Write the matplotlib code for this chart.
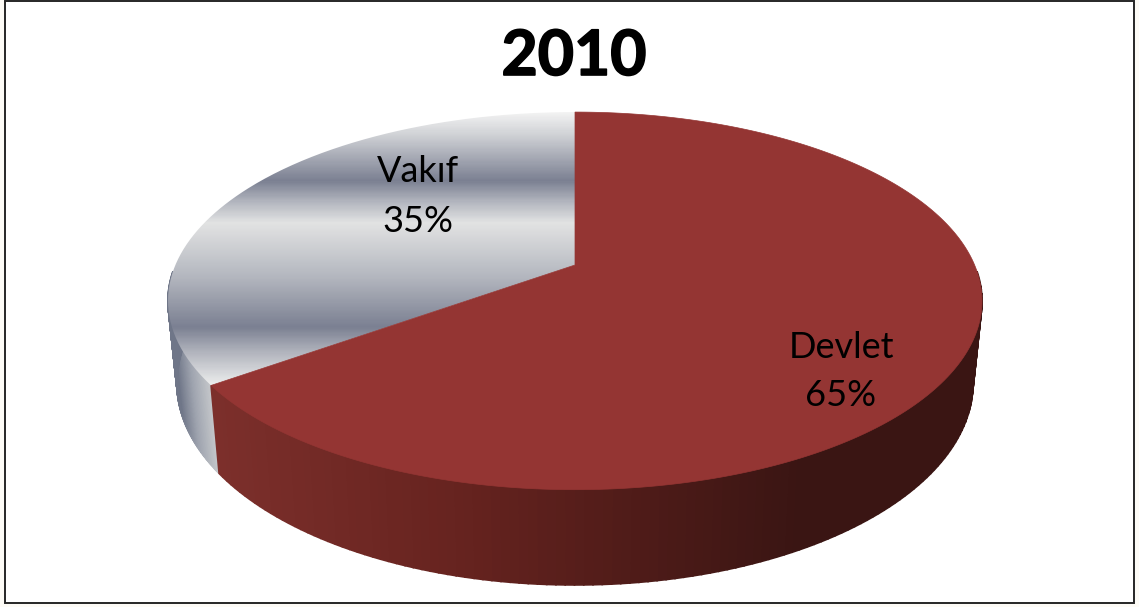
import numpy as np
import matplotlib
matplotlib.use("Agg")
import matplotlib.pyplot as plt
import matplotlib.patheffects as pe
from matplotlib.colors import LinearSegmentedColormap, to_rgb
from matplotlib.patches import PathPatch, Rectangle
from matplotlib.path import Path

title = "2010"
labels = ["Devlet", "Vakıf"]
shares = [65, 35]

W, H = 1139, 607
CX = 575
TILT = -0.19

# (half width, half height, centre y) of the top and bottom rims
TOP_RIM = (399.6, 182.0, 265.0)
BOTTOM_RIM = (390.8, 194.7, 344.6)


def rim(theta_deg, ring):
    # theta is clockwise from 12 o'clock, with perspective applied
    a, b, cy = ring
    t = np.radians(theta_deg)
    u, v = np.sin(t), -np.cos(t)
    d = 1 + TILT * v
    return CX + a * u / d, cy + b * v / d


def ramp(stops, x):
    xs = [s[0] for s in stops]
    rgb = np.array([to_rgb(s[1]) for s in stops])
    return [np.interp(x, xs, rgb[:, i]) for i in range(3)]


def draw_side(ax, start, end, stops, zorder):
    th = np.linspace(start, end, 130)
    xt, yt = rim(th, TOP_RIM)
    xb, yb = rim(th, BOTTOM_RIM)
    for i in range(len(th) - 1):
        c = ramp(stops, (xt[i] + xt[i + 1]) / 2)
        ax.fill(
            [xt[i], xt[i + 1], xb[i + 1], xb[i]],
            [yt[i], yt[i + 1], yb[i + 1], yb[i]],
            color=c,
            lw=1.2,
            zorder=zorder,
        )


def face_xy(start, end):
    th = np.linspace(start, end, 240)
    x, y = rim(th, TOP_RIM)
    return np.r_[CX, x, CX], np.r_[TOP_RIM[2], y, TOP_RIM[2]]


fig = plt.figure(figsize=(W / 100, H / 100), dpi=100, facecolor="#fdfbf6")
ax = fig.add_axes([0, 0, 1, 1])

ax.add_patch(Rectangle((5, 1), 1129, 602, fc="white", ec="#262626", lw=1.4, zorder=0))

split = 360 * shares[0] / sum(shares)

# sides, drawn as narrow strips shaded by x
red_side = [(215, "#7c2f2b"), (460, "#66231f"), (620, "#511c19"), (800, "#3a1513")]
gray_side = [(172, "#6f7688"), (190, "#a0a5b0"), (215, "#cfd1d2")]
draw_side(ax, split, 268, gray_side, 2)
draw_side(ax, 92, split, red_side, 2.1)

# Devlet face
fx, fy = face_xy(0, split)
ax.fill(fx, fy, color="#943533", lw=0.5, zorder=3)

# Vakif face, banded horizontally
bands = LinearSegmentedColormap.from_list(
    "bands",
    [
        (0.0, "#f2f2f2"),
        (0.08, "#d0d2d6"),
        (0.25, "#7b8092"),
        (0.33, "#b4b7c0"),
        (0.405, "#e2e3e3"),
        (0.6, "#b5b8c0"),
        (0.79, "#7b8092"),
        (0.88, "#b0b3bc"),
        (1.0, "#ebecec"),
    ],
)
fx, fy = face_xy(split, 360)
grad = np.linspace(0, 1, 300).reshape(-1, 1)
im = ax.imshow(grad, cmap=bands, extent=(fx.min(), fx.max(), 385, 112), aspect="auto", zorder=2.9)
clip = PathPatch(Path(np.c_[fx, fy]), fc="none", ec="none", transform=ax.transData)
ax.add_patch(clip)
im.set_clip_path(clip)

ax.set_xlim(0, W)
ax.set_ylim(H, 0)
ax.axis("off")

font = "Lato"
ax.text(574, 57, title, ha="center", va="center", fontsize=45, fontweight="bold",
        family=font, color="black", zorder=5,
        path_effects=[pe.withStroke(linewidth=1.2, foreground="black")])
ax.text(841, 347, labels[0], ha="center", va="center", fontsize=26, family=font, zorder=5)
ax.text(841, 396, f"{shares[0]}%", ha="center", va="center", fontsize=26, family=font, zorder=5)
ax.text(418, 172, labels[1], ha="center", va="center", fontsize=26, family=font, zorder=5)
ax.text(418, 221, f"{shares[1]}%", ha="center", va="center", fontsize=26, family=font, zorder=5)

fig.savefig("out.png", dpi=100, facecolor=fig.get_facecolor())
